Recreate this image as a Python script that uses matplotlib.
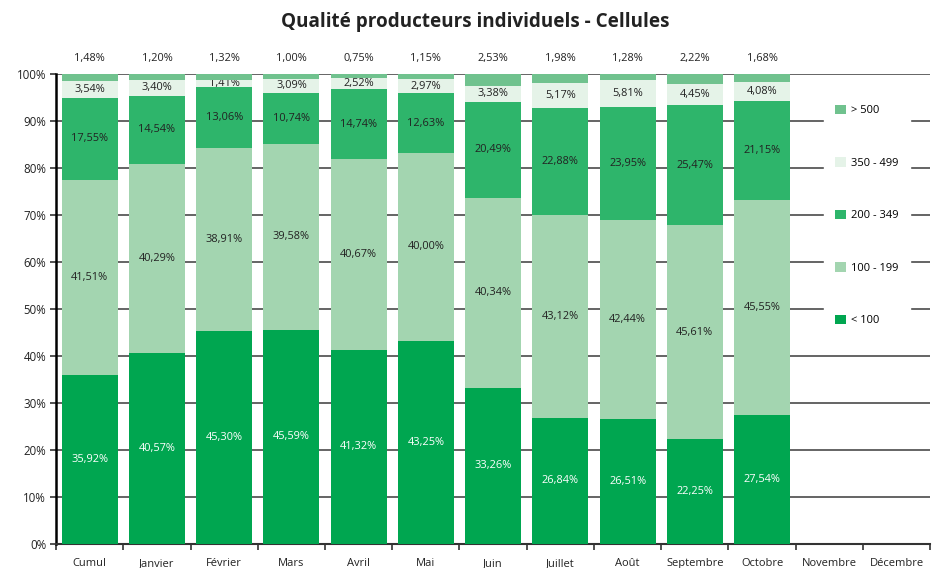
import matplotlib
matplotlib.use("Agg")
import matplotlib.pyplot as plt
import numpy as np

categories = ["Cumul", "Janvier", "Février", "Mars", "Avril", "Mai", "Juin",
              "Juillet", "Août", "Septembre", "Octobre", "Novembre", "Décembre"]
lt100 = [35.92, 40.57, 45.30, 45.59, 41.32, 43.25, 33.26, 26.84, 26.51, 22.25, 27.54, np.nan, np.nan]
r100_199 = [41.51, 40.29, 38.91, 39.58, 40.67, 40.00, 40.34, 43.12, 42.44, 45.61, 45.55, np.nan, np.nan]
r200_349 = [17.55, 14.54, 13.06, 10.74, 14.74, 12.63, 20.49, 22.88, 23.95, 25.47, 21.15, np.nan, np.nan]
r350_499 = [3.54, 3.40, 1.41, 3.09, 2.52, 2.97, 3.38, 5.17, 5.81, 4.45, 4.08, np.nan, np.nan]
gt500 = [1.48, 1.20, 1.32, 1.00, 0.75, 1.15, 2.53, 1.98, 1.28, 2.22, 1.68, np.nan, np.nan]

series = [("< 100", lt100, "#00a650", "white"),
          ("100 - 199", r100_199, "#a3d5b0", "#222222"),
          ("200 - 349", r200_349, "#2eb56b", "#222222"),
          ("350 - 499", r350_499, "#e5f3e8", "#222222"),
          ("> 500", gt500, "#70c28e", None)]

plt.rcParams['font.family'] = ['Open Sans', 'DejaVu Sans']

fig = plt.figure(figsize=(9.35, 5.68), dpi=100)
ax = fig.add_axes([0.0599, 0.0423, 0.935, 0.8274])

x = np.arange(len(categories))
bottom = np.zeros(len(categories))
handles = {}
for name, vals, color, tcolor in series:
    v = np.array(vals, dtype=float)
    bars = ax.bar(x, np.nan_to_num(v), width=0.83, bottom=bottom, color=color,
                  zorder=3, label=name)
    handles[name] = bars
    if tcolor is not None:
        labels = ["" if np.isnan(a) else f"{a:.2f}%".replace(".", ",") for a in v]
        ax.bar_label(bars, labels=labels, label_type="center", color=tcolor,
                     fontsize=7.9)
    else:
        for xi, a in zip(x, v):
            if not np.isnan(a):
                ax.text(xi, 103.3, f"{a:.2f}%".replace(".", ","), ha="center",
                        va="center", fontsize=7.9, color="#222222", clip_on=False)
    bottom = bottom + np.nan_to_num(v)

ax.set_xlim(-0.5, len(categories) - 0.5)
ax.set_ylim(0, 100)
ax.set_yticks(np.arange(0, 101, 10))
ax.set_yticklabels([f"{t}%" for t in range(0, 101, 10)], fontsize=8.3, color="#222222")
ax.yaxis.grid(True, color="#4a4a4a", linewidth=1.2, zorder=0)
ax.set_axisbelow(True)

ax.set_xticks(x)
ax.set_xticklabels(categories, fontsize=8.0, color="#222222")
ax.set_xticks(np.arange(-0.5, len(categories), 1), minor=True)
ax.tick_params(axis="x", which="major", length=0, pad=10)
ax.tick_params(axis="x", which="minor", length=4, width=1.2, color="#333333")
ax.tick_params(axis="y", length=4, width=1.2, color="#333333", pad=3)

for s in ["top", "right"]:
    ax.spines[s].set_visible(False)
ax.spines["left"].set_linewidth(1.8)
ax.spines["left"].set_color("black")
ax.spines["bottom"].set_linewidth(1.5)
ax.spines["bottom"].set_color("#333333")

order = ["> 500", "350 - 499", "200 - 349", "100 - 199", "< 100"]
leg = ax.legend([handles[n] for n in order], order, loc="upper left",
                bbox_to_anchor=(0.872, 0.970), fontsize=8.0, frameon=True,
                labelspacing=3.68, handlelength=0.95, handleheight=0.95,
                handletextpad=0.5, borderpad=1.0, fancybox=False, framealpha=1.0)
leg.get_frame().set_facecolor("white")
leg.get_frame().set_edgecolor("white")
leg.set_zorder(5)

fig.text(0.508, 0.962, "Qualité producteurs individuels - Cellules", ha="center",
         va="center", fontsize=13.6, fontweight="bold", color="#222222")

fig.savefig("out.png", dpi=100)
